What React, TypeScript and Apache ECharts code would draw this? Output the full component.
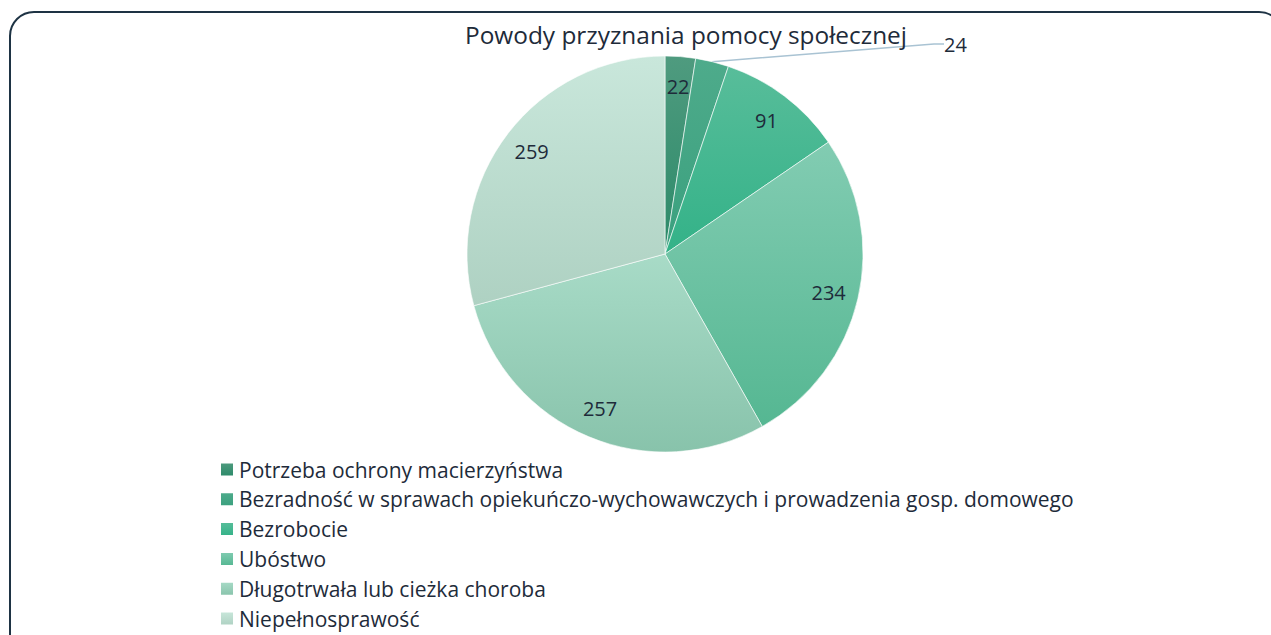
import React, { useEffect, useRef } from "react";
import * as echarts from "echarts";

const categories = [
  "Potrzeba ochrony macierzyństwa",
  "Bezradność w sprawach opiekuńczo-wychowawczych i prowadzenia gosp. domowego",
  "Bezrobocie",
  "Ubóstwo",
  "Długotrwała lub cieżka choroba",
  "Niepełnosprawość",
];
const values = [22, 24, 91, 234, 257, 259];
const topColors = ["#4f9b7f", "#4eab8b", "#58bd9a", "#82ccb2", "#a8dbc7", "#c9e7db"];
const bottomColors = ["#2c8a69", "#3aa07e", "#33b288", "#55b792", "#88c3ab", "#aed1c2"];
const titleText = "Powody przyznania pomocy społecznej";

const FONT = "'Open Sans', sans-serif";
const TEXT = "#1e2b3a";

export default function App() {
  const ref = useRef<HTMLDivElement>(null);
  useEffect(() => {
    if (!ref.current) return;
    const chart = echarts.init(ref.current, undefined, { renderer: "svg" });
    const grad = (i: number) =>
      new echarts.graphic.LinearGradient(0, 0, 0, 1, [
        { offset: 0, color: topColors[i] },
        { offset: 1, color: bottomColors[i] },
      ]);
    const mainData = categories.map((name, i) => ({
      name,
      value: values[i],
      itemStyle: { color: grad(i) },
      label: { show: i === 1 },
      labelLine: { show: i === 1 },
    }));
    const labelData = categories.map((name, i) => ({
      name,
      value: values[i],
      label: { show: i !== 1 },
    }));
    chart.setOption({
      animation: false,
      backgroundColor: "#ffffff",
      textStyle: { fontFamily: FONT },
      title: {
        text: titleText,
        left: 460,
        top: 17,
        textStyle: { fontFamily: FONT, fontSize: 24.4, fontWeight: "normal", color: TEXT },
      },
      legend: {
        orient: "vertical",
        left: 214,
        top: 454,
        itemWidth: 14,
        itemHeight: 14,
        itemGap: 8.8,
        icon: "rect",
        data: categories,
        textStyle: { fontFamily: FONT, fontSize: 21, color: TEXT },
      },
      graphic: [
        {
          type: "rect",
          shape: { x: 10, y: 12, width: 1273, height: 700, r: 24 },
          style: { fill: "none", stroke: "#1e3344", lineWidth: 2 },
          silent: true,
        },
      ],
      series: [
        {
          type: "pie",
          center: [665, 254],
          radius: [0, 198],
          startAngle: 90,
          clockwise: true,
          legendHoverLink: false,
          itemStyle: { borderColor: "#ffffff", borderWidth: 0.6 },
          label: {
            position: "outside",
            formatter: "{c}",
            fontFamily: FONT,
            fontSize: 20,
            color: TEXT,
          },
          labelLine: {
            length: 10,
            length2: 10,
            lineStyle: { color: "#a9c3d3", width: 1.5 },
          },
          labelLayout: (p: any) =>
            p.dataIndex === 1 ? { x: 944, y: 44, align: "left", verticalAlign: "middle" } : {},
          data: mainData,
        },
        {
          type: "pie",
          center: [665, 254],
          radius: [132, 198],
          startAngle: 90,
          clockwise: true,
          silent: true,
          legendHoverLink: false,
          itemStyle: { color: "rgba(0,0,0,0)" },
          label: {
            position: "inside",
            formatter: "{c}",
            fontFamily: FONT,
            fontSize: 20,
            color: TEXT,
          },
          labelLine: { show: false },
          data: labelData,
        },
      ],
    });
    return () => chart.dispose();
  }, []);
  return (
    <div
      ref={ref}
      style={{ position: "fixed", left: 0, top: 0, width: 1271, height: 635 }}
    />
  );
}
